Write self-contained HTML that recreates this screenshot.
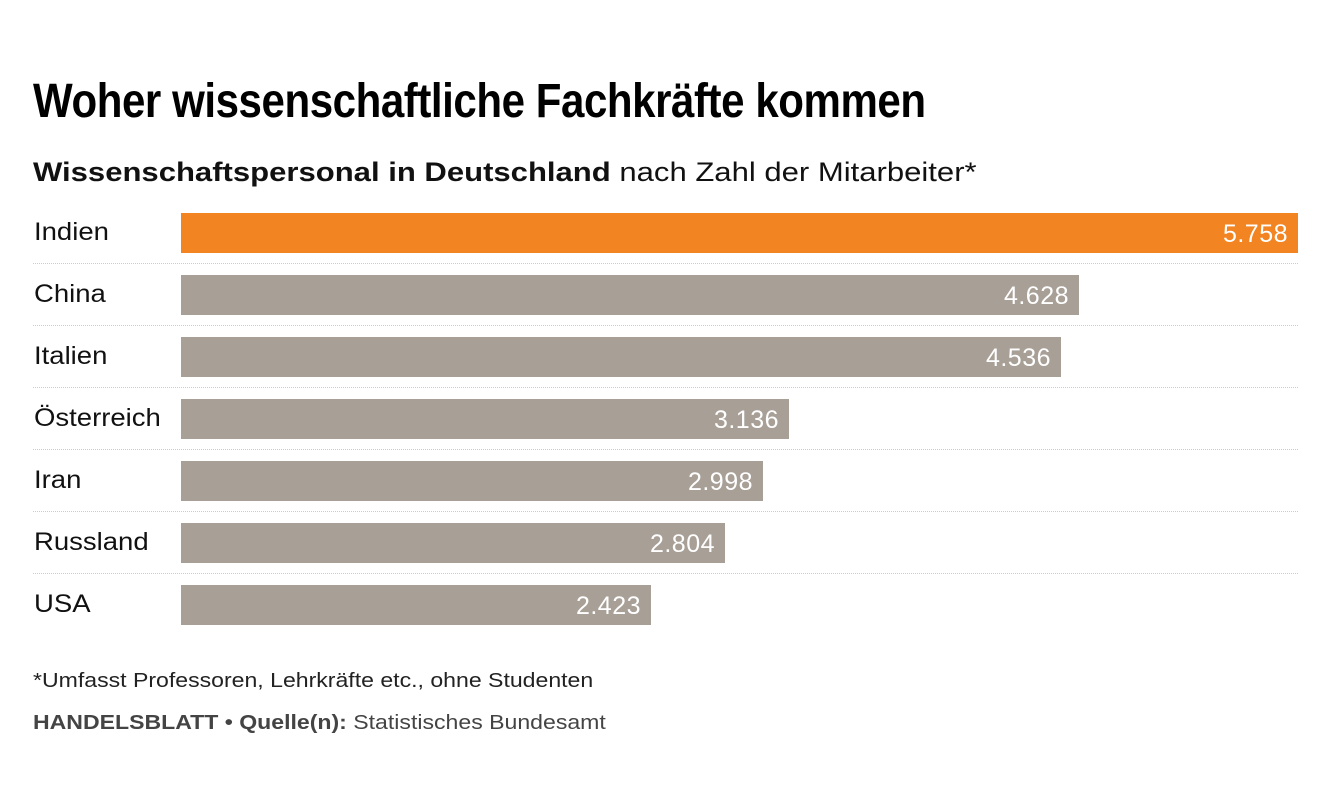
<!DOCTYPE html>
<html><head><meta charset="utf-8"><style>
body{margin:0;width:1324px;height:806px;background:#fff;font-family:"Liberation Sans",sans-serif;position:relative;overflow:hidden}
.t{position:absolute;left:33px;top:74px;font-size:48px;font-weight:bold;white-space:nowrap;transform:scaleX(0.876);transform-origin:left top;letter-spacing:-0.5px;color:#000}
.s{position:absolute;left:33px;top:157px;font-size:27px;color:#111;white-space:nowrap;transform:scaleX(1.15);transform-origin:left top}
.l{position:absolute;left:34px;font-size:25px;color:#111;line-height:40px;transform:scaleX(1.1);transform-origin:left top;white-space:nowrap}
.b{position:absolute;left:181px;height:40px;background:#a89f96;color:#fff;font-size:25px;line-height:42px;text-align:right;box-sizing:border-box;padding-right:10px;letter-spacing:0.5px}
.d{position:absolute;left:33px;width:1265px;border-top:1.5px dotted #ccc;height:0}
.f{position:absolute;left:33px;font-size:20.5px;white-space:nowrap;transform:scaleX(1.125);transform-origin:left top}
</style></head><body>
<div class="t">Woher wissenschaftliche Fachkräfte kommen</div>
<div class="s"><b>Wissenschaftspersonal in Deutschland</b> nach Zahl der Mitarbeiter*</div>

<div class="l" style="top:212px">Indien</div><div class="b" style="top:213px;width:1117px;background:#f28421">5.758</div><div class="d" style="top:263px"></div>
<div class="l" style="top:274px">China</div><div class="b" style="top:275px;width:898px">4.628</div><div class="d" style="top:325px"></div>
<div class="l" style="top:336px">Italien</div><div class="b" style="top:337px;width:880px">4.536</div><div class="d" style="top:387px"></div>
<div class="l" style="top:398px">Österreich</div><div class="b" style="top:399px;width:608px">3.136</div><div class="d" style="top:449px"></div>
<div class="l" style="top:460px">Iran</div><div class="b" style="top:461px;width:582px">2.998</div><div class="d" style="top:511px"></div>
<div class="l" style="top:522px">Russland</div><div class="b" style="top:523px;width:544px">2.804</div><div class="d" style="top:573px"></div>
<div class="l" style="top:584px">USA</div><div class="b" style="top:585px;width:470px">2.423</div>

<div class="f" style="top:669px;color:#222">*Umfasst Professoren, Lehrkräfte etc., ohne Studenten</div>
<div class="f" style="top:711px;color:#444"><b>HANDELSBLATT • Quelle(n):</b> Statistisches Bundesamt</div>
</body></html>
